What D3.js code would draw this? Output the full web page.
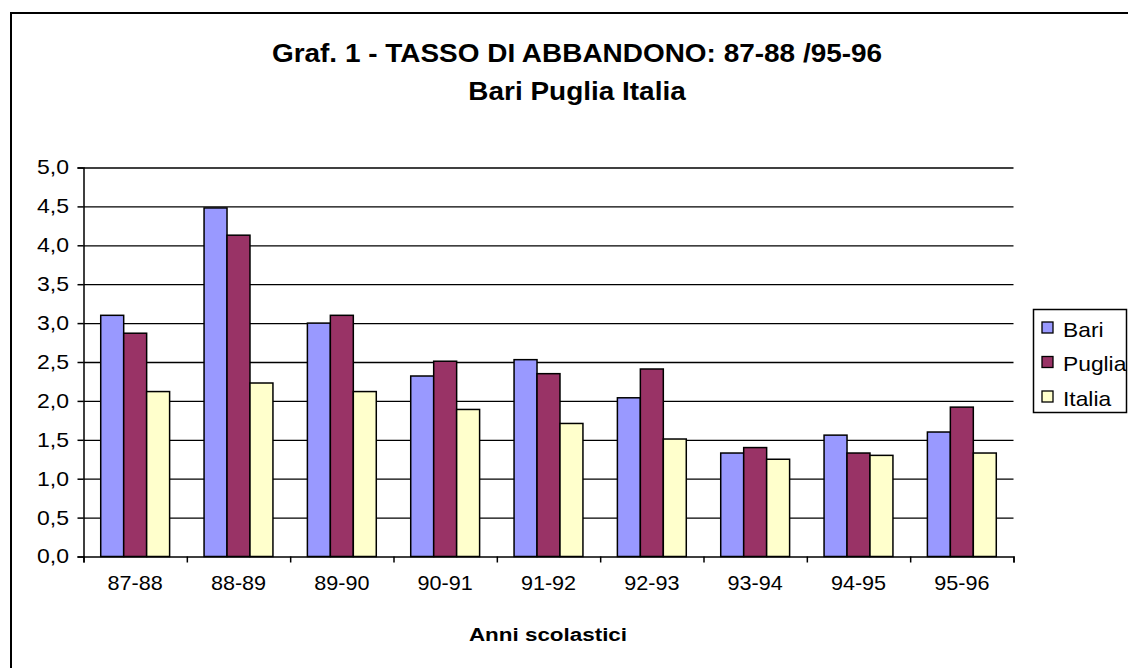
<!DOCTYPE html>
<html>
<head>
<meta charset="utf-8">
<script src="https://cdn.jsdelivr.net/npm/d3@7"></script>
<style>
  body { margin: 0; background: #fff; }
  text { font-family: "Liberation Sans", Arial, sans-serif; fill: #000; }
</style>
</head>
<body>
<div class="chart"></div>
<script>
// data
const years = ["87-88", "88-89", "89-90", "90-91", "91-92", "92-93", "93-94", "94-95", "95-96"];
const seriesNames = ["Bari", "Puglia", "Italia"];
const bari = [3.10, 4.48, 3.00, 2.32, 2.53, 2.04, 1.33, 1.56, 1.60];
const puglia = [2.87, 4.13, 3.10, 2.51, 2.35, 2.41, 1.40, 1.33, 1.92];
const italia = [2.12, 2.23, 2.12, 1.89, 1.71, 1.51, 1.25, 1.30, 1.33];
const yTicks = [0, 0.5, 1, 1.5, 2, 2.5, 3, 3.5, 4, 4.5, 5];
const colors = ["#9999FF", "#993366", "#FFFFCC"];

const w = 1128;
const h = 668;
const plotLeft = 83.5, plotRight = 1013.5, plotTop = 167.5, plotBottom = 556.5;

const svg = d3.select(".chart")
  .append("svg")
  .attr("width", w)
  .attr("height", h);

// outer frame
svg.append("rect")
  .attr("x", 11).attr("y", 13)
  .attr("width", w + 20).attr("height", h + 20)
  .attr("fill", "#fff")
  .attr("stroke", "#000")
  .attr("stroke-width", 2);

const it = d3.formatLocale({ decimal: ",", thousands: ".", grouping: [3], currency: ["", "€"] });
const fmt = it.format(".1f");

// helper for the slightly wide labels of the original
function label(parent, x, y, str, size, stretch, weight) {
  return parent.append("text")
    .attr("transform", `translate(${x},${y}) scale(${stretch},1)`)
    .attr("text-anchor", "middle")
    .attr("font-size", size)
    .attr("font-weight", weight || "normal")
    .text(str);
}

//scales
const xScale = d3.scaleBand().domain(years).range([plotLeft, plotRight]);
const xEdge = d3.scaleLinear().domain([0, years.length]).range([plotLeft, plotRight]);
const xInner = d3.scaleBand()
  .domain(seriesNames)
  .range([0, xScale.bandwidth()])
  .paddingInner(0)
  .paddingOuter(0.75);
const yScale = d3.scaleLinear().domain([0, 5]).range([plotBottom, plotTop]);

// gridlines
svg.append("g")
  .attr("class", "grid")
  .attr("transform", `translate(${plotLeft},0)`)
  .call(d3.axisLeft(yScale).tickValues(yTicks.slice(1)).tickSize(-(plotRight - plotLeft)).tickFormat(""))
  .call(g => g.select(".domain").remove())
  .call(g => g.selectAll("line").attr("stroke", "#000").attr("stroke-width", 1.3));

// bars
const rows = years.map((y, i) => ({ year: y, values: [bari[i], puglia[i], italia[i]] }));

svg.append("g")
  .selectAll("g")
  .data(rows)
  .enter()
  .append("g")
  .attr("transform", d => `translate(${xScale(d.year)},0)`)
  .selectAll("rect")
  .data(d => d.values.map((v, j) => ({ name: seriesNames[j], value: v, color: colors[j] })))
  .enter()
  .append("rect")
  .attr("x", d => xInner(d.name))
  .attr("width", xInner.bandwidth())
  .attr("y", d => yScale(d.value))
  .attr("height", d => plotBottom - yScale(d.value))
  .attr("fill", d => d.color)
  .attr("stroke", "#000")
  .attr("stroke-width", 1.5);

//axis
svg.append("g")
  .attr("id", "y-axis")
  .attr("transform", `translate(${plotLeft},0)`)
  .call(d3.axisLeft(yScale).tickValues(yTicks).tickSize(6).tickFormat(fmt))
  .call(g => g.selectAll("line, path").attr("stroke", "#000").attr("stroke-width", 1.5))
  .call(g => g.selectAll("text")
    .attr("font-size", 20)
    .attr("font-family", "Liberation Sans, Arial, sans-serif")
    .attr("x", -14.5 / 1.15)
    .attr("transform", "scale(1.15,1)"));

svg.append("g")
  .attr("id", "x-axis")
  .attr("transform", `translate(0,${plotBottom})`)
  .call(d3.axisBottom(xEdge).tickValues(d3.range(years.length + 1)).tickSize(6).tickFormat(""))
  .call(g => g.selectAll("line, path").attr("stroke", "#000").attr("stroke-width", 1.5));

const xLabels = svg.append("g");
years.forEach(d => label(xLabels, xScale(d) + xScale.bandwidth() / 2, plotBottom + 33, d, 20, 1.08));

// titles
label(svg, 577, 62, "Graf. 1 - TASSO DI ABBANDONO: 87-88 /95-96", 26, 1.075, "bold");
label(svg, 577, 100, "Bari Puglia Italia", 26, 1.075, "bold");
label(svg, 548, 641, "Anni scolastici", 19, 1.18, "bold");

//legend
const legend = svg.append("g").attr("id", "legend");
legend.append("rect")
  .attr("x", 1033.5).attr("y", 309.5)
  .attr("width", 93).attr("height", 103)
  .attr("fill", "#fff").attr("stroke", "#000").attr("stroke-width", 1.5);

const items = legend.selectAll("g.item")
  .data(seriesNames)
  .enter()
  .append("g")
  .attr("class", "item")
  .attr("transform", (d, i) => `translate(1042,${322 + i * 34.5})`);
items.append("rect")
  .attr("width", 11).attr("height", 11)
  .attr("fill", (d, i) => colors[i])
  .attr("stroke", "#000").attr("stroke-width", 1.3);
items.append("text")
  .attr("transform", "translate(21,14.5) scale(1.14,1)")
  .attr("font-size", 20)
  .text(d => d);
</script>
</body>
</html>
